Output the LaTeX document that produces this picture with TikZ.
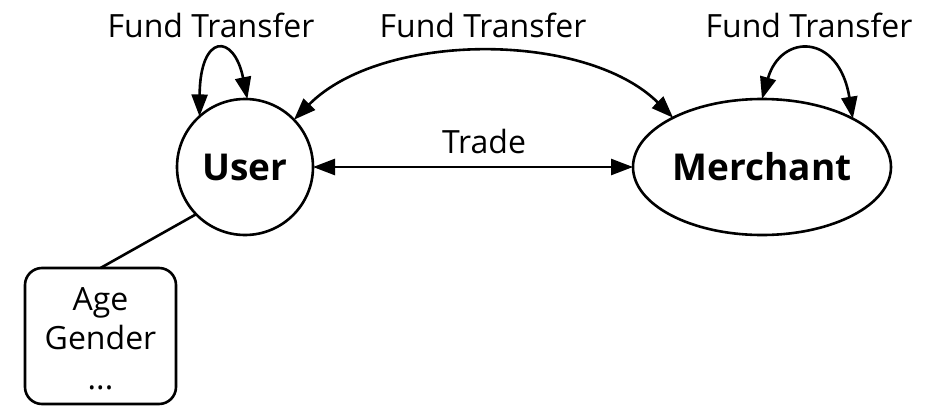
\documentclass[tikz,border=0pt]{standalone}
\usepackage{fontspec}
\setmainfont{Open Sans}
\usetikzlibrary{arrows.meta,shapes.geometric}
\begin{document}
\begin{tikzpicture}[x=1pt,y=-1pt,line width=2.6pt,
  entity/.style={draw,inner sep=0pt,outer sep=0pt,font=\fontsize{37}{44}\selectfont\bfseries},
  lbl/.style={font=\fontsize{32}{38}\selectfont,inner sep=0pt},
  attrbox/.style={draw,rounded corners=17pt,minimum width=151pt,minimum height=136pt,inner sep=0pt,outer sep=0pt},
  link/.style={{Triangle[length=22pt,width=16pt]}-{Triangle[length=22pt,width=16pt]}},
]
\clip (0,0) rectangle (943,405);

% entities
\node[entity,circle,minimum size=136pt] (user) at (245,167) {User};
\node[entity,ellipse,minimum width=258pt,minimum height=136pt] (merch) at (762,167) {Merchant};

% attribute box of the user
\node[attrbox,anchor=north] (attr) at (100.5,268) {};
\node[lbl,anchor=base] (age) at (100.5,310) {Age};
\node[lbl,anchor=base] (gender) at (100.5,349) {Gender};
\node[lbl,anchor=base] (more) at (100.5,389) {...};

% relation labels
\node[lbl,anchor=base] (ftuser) at (211,37) {Fund Transfer};
\node[lbl,anchor=base] (ftmid) at (483,37) {Fund Transfer};
\node[lbl,anchor=base] (ftmerch) at (809,37) {Fund Transfer};
\node[lbl,anchor=base] (trade) at (484,153) {Trade};

% relations
\draw[link] (user.0) -- (merch.180);
\draw[link] (user.44) .. controls (382,31) and (586,31) .. (merch.151);
\draw[link] (user.132) .. controls (200,33) and (234,33) .. (user.88);
\draw[link] (merch.90) .. controls (781,33) and (839,33) .. (merch.28);
\draw (user.224) -- (attr.north);
\end{tikzpicture}
\end{document}
